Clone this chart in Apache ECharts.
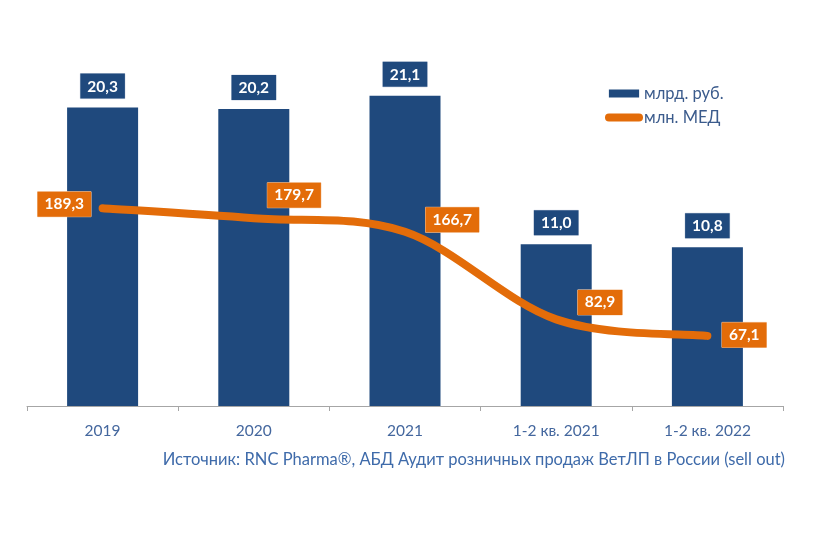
<!DOCTYPE html>
<html>
<head>
<meta charset="utf-8">
<script src="https://cdn.jsdelivr.net/npm/echarts@6/dist/echarts.min.js"></script>
<style>html,body{margin:0;padding:0;background:#fff;}#c{width:816px;height:533px;}</style>
</head>
<body>
<div id="c"></div>
<script>
const categories = ['2019', '2020', '2021', '1-2 кв. 2021', '1-2 кв. 2022'];
const rubValues = [20.3, 20.2, 21.1, 11.0, 10.8];
const medValues = [189.3, 179.7, 166.7, 82.9, 67.1];
const seriesNames = ['млрд. руб.', 'млн. МЕД'];
const sourceText = 'Источник: RNC Pharma®, АБД Аудит розничных продаж ВетЛП в России (sell out)';

const FONT = 'Lato, "Open Sans", sans-serif';
const BLUE = '#1F497D';
const ORANGE = '#E36C09';
const fmt = v => v.toFixed(1).replace('.', ',');

// label placement per line point: [position, distance, dx, dy]
const lineLabelPlacement = [
  ['left', 11, 0, -4],
  ['right', 13, 0, -23],
  ['right', 20, 0, -12],
  ['right', 21, 0, -17],
  ['right', 14, 0, -1]
];

// Excel-like smoothed curve through the series points (Catmull-Rom Bezier)
function renderCurve(params, api) {
  if (params.dataIndex !== 0) return null;
  const pts = medValues.map((v, i) => api.coord([i, v]));
  const n = pts.length;
  const t = 1 / 6;
  let d = 'M' + pts[0][0] + ',' + pts[0][1];
  for (let i = 0; i < n - 1; i++) {
    const p0 = pts[Math.max(i - 1, 0)], p1 = pts[i], p2 = pts[i + 1], p3 = pts[Math.min(i + 2, n - 1)];
    const c1 = [p1[0] + (p2[0] - p0[0]) * t, p1[1] + (p2[1] - p0[1]) * t];
    const c2 = [p2[0] - (p3[0] - p1[0]) * t, p2[1] - (p3[1] - p1[1]) * t];
    d += 'C' + c1[0] + ',' + c1[1] + ' ' + c2[0] + ',' + c2[1] + ' ' + p2[0] + ',' + p2[1];
  }
  return {
    type: 'path',
    shape: {pathData: d},
    style: {fill: null, stroke: ORANGE, lineWidth: 8, lineCap: 'round', lineJoin: 'round'}
  };
}

const chart = echarts.init(document.getElementById('c'), null, {renderer: 'canvas'});
chart.setOption({
  animation: false,
  textStyle: {fontFamily: FONT},
  grid: {left: 27, right: 33, top: 38.5, bottom: 127},
  legend: {
    orient: 'vertical',
    left: 600,
    top: 80,
    itemWidth: 38,
    itemHeight: 8,
    itemGap: 7,
    textStyle: {fontFamily: FONT, fontSize: 16.5, color: '#3B5B8C', padding: [0, 0, 0, -4]},
    data: [
      {name: seriesNames[0], icon: 'path://M4,0 L38,0 L38,9 L4,9 Z'},
      {name: seriesNames[1], icon: 'path://M4,0 L34,0 A4,4 0 0 1 34,8 L4,8 A4,4 0 0 1 4,0 Z', itemStyle: {color: ORANGE}}
    ]
  },
  xAxis: {
    type: 'category',
    data: categories,
    axisLine: {lineStyle: {color: '#A6A6A6', width: 1}},
    axisTick: {show: true, length: 5, lineStyle: {color: '#A6A6A6'}},
    axisLabel: {color: '#44679E', fontSize: 15.5, margin: 17, fontFamily: FONT}
  },
  yAxis: [
    {type: 'value', min: 0, max: 25, show: false, splitLine: {show: false}},
    {type: 'value', min: 0, max: 351.7, show: false, splitLine: {show: false}}
  ],
  series: [
    {
      name: seriesNames[0],
      type: 'bar',
      yAxisIndex: 0,
      barWidth: 71,
      itemStyle: {color: BLUE},
      data: rubValues,
      label: {
        show: true,
        position: 'top',
        distance: 9,
        formatter: p => fmt(p.value),
        color: '#fff',
        fontWeight: 'bold',
        fontSize: 15.5,
        fontFamily: FONT,
        backgroundColor: BLUE,
        borderColor: '#D0D8E4',
        borderWidth: 0.5,
        padding: [5, 7, 4, 7]
      }
    },
    {
      name: seriesNames[1],
      type: 'custom',
      yAxisIndex: 1,
      itemStyle: {color: ORANGE},
      z: 5,
      data: medValues.map((v, i) => [i, v]),
      renderItem: renderCurve
    },
    {
      name: 'labels',
      type: 'line',
      yAxisIndex: 1,
      symbol: 'circle',
      symbolSize: 1,
      itemStyle: {color: ORANGE},
      lineStyle: {opacity: 0},
      z: 6,
      data: medValues.map((v, i) => ({
        value: v,
        label: {
          position: lineLabelPlacement[i][0],
          distance: lineLabelPlacement[i][1],
          offset: [lineLabelPlacement[i][2], lineLabelPlacement[i][3]]
        }
      })),
      label: {
        show: true,
        formatter: p => fmt(p.value),
        color: '#fff',
        fontWeight: 'bold',
        fontSize: 15.5,
        fontFamily: FONT,
        backgroundColor: ORANGE,
        borderColor: '#F4C7A0',
        borderWidth: 0.5,
        padding: [5, 7, 4, 7]
      }
    }
  ],
  graphic: [{
    type: 'text',
    right: 31,
    top: 451,
    style: {text: sourceText, fontFamily: FONT, fontSize: 16.5, fill: '#3F6BAA'}
  }]
});
</script>
</body>
</html>
